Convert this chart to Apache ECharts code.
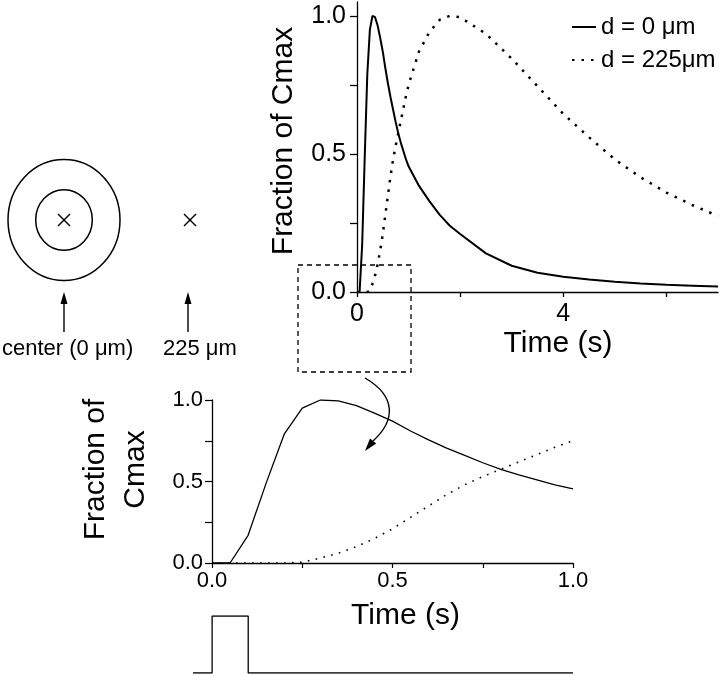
<!DOCTYPE html>
<html>
<head>
<meta charset="utf-8">
<title>Fraction of Cmax</title>
<script src="https://cdn.jsdelivr.net/npm/echarts@6/dist/echarts.min.js"></script>
<style>
html,body{margin:0;padding:0;background:#fff;}
#main{width:720px;height:676px;}
</style>
</head>
<body>
<div id="main"></div>
<script>
// time (s) and concentration as fraction of Cmax
var timeEarly = [0, 0.05, 0.1, 0.15, 0.2, 0.25, 0.3, 0.35, 0.4, 0.45, 0.5,
                 0.55, 0.6, 0.65, 0.7, 0.75, 0.8, 0.85, 0.9, 0.95, 1.0];
var centerEarly = [0, 0, 0.17, 0.49, 0.79, 0.95, 1.0, 0.995, 0.965, 0.92, 0.87,
                   0.81, 0.755, 0.705, 0.66, 0.615, 0.575, 0.54, 0.51, 0.48, 0.455];
var distEarly = [0, 0, 0, 0, 0, 0.005, 0.03, 0.06, 0.10, 0.15, 0.21,
                 0.28, 0.35, 0.42, 0.48, 0.53, 0.575, 0.62, 0.665, 0.71, 0.75];

var timeLate = [1.2, 1.4, 1.6, 1.8, 2.0, 2.5, 3.0, 3.5, 4.0, 4.5, 5.0, 5.5, 6.0, 6.5, 7.0];
var centerLate = [0.385, 0.33, 0.28, 0.24, 0.21, 0.14, 0.095, 0.07, 0.055, 0.045, 0.037, 0.031, 0.026, 0.023, 0.020];
var distLate = [0.87, 0.94, 0.985, 1.0, 0.995, 0.935, 0.845, 0.745, 0.645, 0.56, 0.48, 0.415, 0.36, 0.315, 0.275];

// stimulus pulse under the lower plot
var pulseTime = [-0.053, 0, 0, 0.1, 0.1, 1.0];
var pulseOn = [0, 0, 1, 1, 0, 0];

var seriesNames = ['d = 0 \u03bcm', 'd = 225\u03bcm'];

var FONT = '"Liberation Sans", Arial, Helvetica, sans-serif';

function pairs(xs, ys) {
    var out = [];
    for (var i = 0; i < xs.length; i++) {
        out.push([xs[i], ys[i]]);
    }
    return out;
}

function oneDec(v) {
    return v.toFixed(1);
}

var axisBlack = {show: true, lineStyle: {color: '#000', width: 1.3}};

var chart = echarts.init(document.getElementById('main'));

var option = {
    backgroundColor: '#fff',
    animation: false,
    textStyle: {fontFamily: FONT, color: '#000'},
    legend: {
        data: seriesNames,
        orient: 'vertical',
        left: 566,
        top: 10,
        itemWidth: 24,
        itemHeight: 14,
        itemGap: 9,
        itemStyle: {opacity: 0},
        textStyle: {fontFamily: FONT, fontSize: 24, color: '#000'}
    },
    grid: [
        {left: 357, top: 2, width: 361, height: 290, outerBoundsMode: 'none'},
        {left: 212, top: 400, width: 361, height: 163, outerBoundsMode: 'none'},
        {left: 193, top: 616, width: 380, height: 57, outerBoundsMode: 'none'}
    ],
    xAxis: [
        {
            gridIndex: 0, type: 'value', min: 0, max: 7,
            name: 'Time (s)', nameLocation: 'middle', nameGap: 37,
            nameTextStyle: {fontSize: 30, color: '#000', fontFamily: FONT, padding: [0, 0, 0, 41]},
            axisLine: axisBlack,
            axisTick: {show: true, length: 5, lineStyle: {color: '#000', width: 1.3}, customValues: [0, 2, 4, 6]},
            axisLabel: {fontSize: 25, color: '#000', margin: 10, customValues: [0, 4]},
            splitLine: {show: false}
        },
        {
            gridIndex: 1, type: 'value', min: 0, max: 1,
            name: 'Time (s)', nameLocation: 'middle', nameGap: 38,
            nameTextStyle: {fontSize: 30, color: '#000', fontFamily: FONT, padding: [0, 0, 0, 26]},
            axisLine: axisBlack,
            axisTick: {show: true, length: 5, lineStyle: {color: '#000', width: 1.2}, customValues: [0, 0.25, 0.5, 0.75, 1]},
            axisLabel: {fontSize: 22, color: '#000', margin: 7, customValues: [0, 0.5, 1], formatter: oneDec},
            splitLine: {show: false}
        },
        {
            gridIndex: 2, type: 'value', min: -0.053, max: 1,
            show: false
        }
    ],
    yAxis: [
        {
            gridIndex: 0, type: 'value', min: 0, max: 1.05,
            name: 'Fraction of Cmax', nameLocation: 'middle', nameRotate: 90, nameGap: 58,
            nameTextStyle: {fontSize: 30, color: '#000', fontFamily: FONT, padding: [0, 0, 0, 12]},
            axisLine: axisBlack,
            axisTick: {show: true, length: 7, lineStyle: {color: '#000', width: 1.3}, customValues: [0, 0.25, 0.5, 0.75, 1]},
            axisLabel: {fontSize: 25, color: '#000', margin: 11, customValues: [0, 0.5, 1], formatter: oneDec},
            splitLine: {show: false}
        },
        {
            gridIndex: 1, type: 'value', min: 0, max: 1,
            name: 'Fraction of\nCmax', nameLocation: 'middle', nameRotate: 90, nameGap: 56,
            nameTextStyle: {fontSize: 30, lineHeight: 40, color: '#000', fontFamily: FONT, padding: [0, 0, 0, 24]},
            axisLine: axisBlack,
            axisTick: {show: true, length: 7, lineStyle: {color: '#000', width: 1.2}, customValues: [0, 0.25, 0.5, 0.75, 1]},
            axisLabel: {fontSize: 22, color: '#000', margin: 9, customValues: [0, 0.5, 1], formatter: oneDec},
            splitLine: {show: false}
        },
        {
            gridIndex: 2, type: 'value', min: 0, max: 1,
            show: false
        }
    ],
    series: [
        {
            name: seriesNames[0], type: 'line', xAxisIndex: 0, yAxisIndex: 0,
            symbol: 'none',
            lineStyle: {color: '#000', width: 2},
            itemStyle: {color: '#000'},
            data: pairs(timeEarly.concat(timeLate), centerEarly.concat(centerLate))
        },
        {
            name: seriesNames[1], type: 'line', xAxisIndex: 0, yAxisIndex: 0,
            symbol: 'none',
            lineStyle: {color: '#000', width: 2.5, type: [2.5, 7]},
            itemStyle: {color: '#000'},
            data: pairs(timeEarly.concat(timeLate), distEarly.concat(distLate))
        },
        {
            name: 'center zoom', type: 'line', xAxisIndex: 1, yAxisIndex: 1,
            symbol: 'none',
            lineStyle: {color: '#000', width: 1.3},
            data: pairs(timeEarly, centerEarly)
        },
        {
            name: '225 zoom', type: 'line', xAxisIndex: 1, yAxisIndex: 1,
            symbol: 'none',
            lineStyle: {color: '#000', width: 1.6, type: [1.6, 6.4]},
            data: pairs(timeEarly, distEarly)
        },
        {
            name: 'pulse', type: 'line', xAxisIndex: 2, yAxisIndex: 2,
            symbol: 'none',
            lineStyle: {color: '#000', width: 1.3},
            data: pairs(pulseTime, pulseOn)
        }
    ],
    graphic: [
        // concentric rings with the release site
        {type: 'ellipse', shape: {cx: 64, cy: 220, rx: 56, ry: 60.5}, style: {fill: 'none', stroke: '#000', lineWidth: 1.5}},
        {type: 'ellipse', shape: {cx: 64, cy: 220, rx: 28.3, ry: 30.3}, style: {fill: 'none', stroke: '#000', lineWidth: 1.5}},
        {type: 'line', shape: {x1: 58, y1: 214, x2: 70, y2: 226}, style: {stroke: '#000', lineWidth: 1.4}},
        {type: 'line', shape: {x1: 58, y1: 226, x2: 70, y2: 214}, style: {stroke: '#000', lineWidth: 1.4}},
        {type: 'line', shape: {x1: 184, y1: 214, x2: 196, y2: 226}, style: {stroke: '#000', lineWidth: 1.4}},
        {type: 'line', shape: {x1: 184, y1: 226, x2: 196, y2: 214}, style: {stroke: '#000', lineWidth: 1.4}},
        // arrows pointing up at the two sites
        {type: 'line', shape: {x1: 64, y1: 332, x2: 64, y2: 301}, style: {stroke: '#000', lineWidth: 1.4}},
        {type: 'polygon', shape: {points: [[64, 292], [60.5, 304], [67.5, 304]]}, style: {fill: '#000'}},
        {type: 'line', shape: {x1: 188, y1: 332, x2: 188, y2: 301}, style: {stroke: '#000', lineWidth: 1.4}},
        {type: 'polygon', shape: {points: [[188, 292], [184.5, 304], [191.5, 304]]}, style: {fill: '#000'}},
        {type: 'text', left: 2, top: 338, style: {text: 'center (0 \u03bcm)', font: '22px ' + FONT, fill: '#000'}},
        {type: 'text', left: 163, top: 338, style: {text: '225 \u03bcm', font: '22px ' + FONT, fill: '#000'}},
        // dashed box marking the zoomed region
        {type: 'rect', shape: {x: 298, y: 265, width: 113, height: 107},
            style: {fill: 'none', stroke: '#000', lineWidth: 1.3, lineDash: [5, 4]}, z: 10},
        // curved arrow down to the zoom plot
        {type: 'bezierCurve', shape: {x1: 365, y1: 378, cpx1: 396, cpy1: 396, cpx2: 396, cpy2: 420, x2: 373, y2: 441},
            style: {fill: 'none', stroke: '#000', lineWidth: 1.4}, z: 10},
        {type: 'polygon', shape: {points: [[365, 451], [376.2, 443.4], [370, 438.4]]}, style: {fill: '#000'}, z: 10}
    ]
};

chart.setOption(option);
</script>
</body>
</html>
